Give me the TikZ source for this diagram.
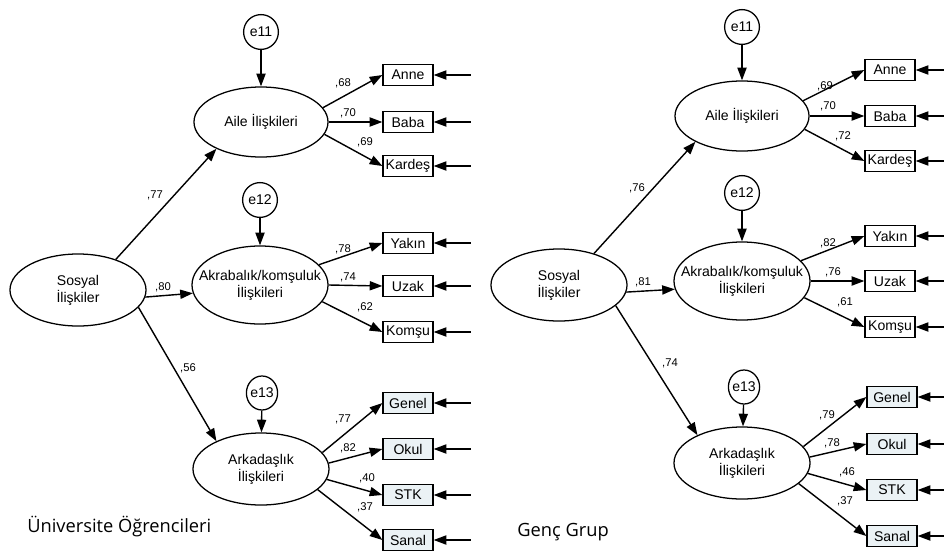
\documentclass[tikz,border=0pt]{standalone}
\usepackage{fontspec}
\setmainfont{Liberation Sans}
\newfontfamily\capfont{Open Sans}
\usetikzlibrary{shapes.geometric, arrows.meta}
\definecolor{obsfill}{HTML}{EBF2F5}
\tikzset{
latent/.style={ellipse, draw, line width=0.9pt, inner xsep=-0.4cm, inner ysep=0pt, minimum width=3.4cm, minimum height=1.8cm, align=center, font=\fontsize{10}{12}\selectfont},
err/.style={circle, draw, line width=0.9pt, inner sep=0pt, minimum size=0.87cm, font=\fontsize{10}{12}\selectfont},
erro/.style={ellipse, draw, line width=0.9pt, inner sep=-1pt, minimum width=0.78cm, minimum height=0.85cm, font=\fontsize{10}{12}\selectfont},
obs/.style={draw, line width=0.9pt, inner sep=0pt, minimum width=1.25cm, minimum height=0.53cm, font=\fontsize{10}{12}\selectfont},
obsb/.style={obs, fill=obsfill},
arr/.style={line width=1pt, -{Triangle[length=9pt, width=6.5pt]}},
lbl/.style={inner sep=0pt, font=\fontsize{8}{9}\selectfont},
grouptitle/.style={anchor=west, inner sep=0pt, font=\capfont\fontsize{13}{15}\selectfont}
}
\begin{document}
\begin{tikzpicture}[x=0.025cm, y=-0.025cm]
\useasboundingbox (0,0) rectangle (944,552);

%Left group: latent variables
\node[latent] (sosL) at (78,290) {Sosyal\\İlişkiler};
\node[latent, minimum width=3.35cm, minimum height=1.75cm] (aileL) at (261,122) {Aile İlişkileri};
\node[latent, minimum height=1.95cm] (akrL) at (260,285) {Akrabalık/komşuluk\\İlişkileri};
\node[latent] (arkL) at (261,469) {Arkadaşlık\\İlişkileri};
\node[err] (e11L) at (261,32) {e11};
\node[err] (e12L) at (260,200) {e12};
\node[erro] (e13L) at (262,393) {e13};

%Left group: observed
\node[obs] (anneL) at (408,75) {Anne};
\node[obs] (babaL) at (408,122) {Baba};
\node[obs] (kardesL) at (408,166) {Kardeş};
\node[obs] (yakinL) at (408,243) {Yakın};
\node[obs] (uzakL) at (408,286) {Uzak};
\node[obs] (komsuL) at (408,332) {Komşu};
\node[obsb] (genelL) at (408,403) {Genel};
\node[obsb] (okulL) at (408,449) {Okul};
\node[obsb] (stkL) at (408,495) {STK};
\node[obsb] (sanalL) at (408,540) {Sanal};

%Left group: paths
\draw[arr] (sosL.39) -- (aileL.211);
\draw[arr] (sosL.-6) -- (akrL.187);
\draw[arr] (sosL.-16) -- (arkL.148);
\draw[arr] (e11L) -- (aileL);
\draw[arr] (e12L) -- (akrL);
\draw[arr] (e13L) -- (arkL);
\draw[arr] (aileL.13) -- (anneL.west);
\draw[arr] (aileL.east) -- (babaL.west);
\draw[arr] (aileL.-11) -- (kardesL.west);
\draw[arr] (akrL.19) -- (yakinL.west);
\draw[arr] (akrL.east) -- (uzakL.west);
\draw[arr] (akrL.-15) -- (komsuL.west);
\draw[arr] (arkL.15) -- (genelL.west);
\draw[arr] (arkL.5) -- (okulL.west);
\draw[arr] (arkL.-9) -- (stkL.west);
\draw[arr] (arkL.-20) -- (sanalL.west);

%Left group: errors of observed
\draw[arr] ([xshift=0.93cm]anneL.east) -- (anneL.east);
\draw[arr] ([xshift=0.93cm]babaL.east) -- (babaL.east);
\draw[arr] ([xshift=0.93cm]kardesL.east) -- (kardesL.east);
\draw[arr] ([xshift=0.93cm]yakinL.east) -- (yakinL.east);
\draw[arr] ([xshift=0.93cm]uzakL.east) -- (uzakL.east);
\draw[arr] ([xshift=0.93cm]komsuL.east) -- (komsuL.east);
\draw[arr] ([xshift=0.93cm]genelL.east) -- (genelL.east);
\draw[arr] ([xshift=0.93cm]okulL.east) -- (okulL.east);
\draw[arr] ([xshift=0.93cm]stkL.east) -- (stkL.east);
\draw[arr] ([xshift=0.93cm]sanalL.east) -- (sanalL.east);

%Left group: estimates
\node[lbl] (l1) at (155,195) {,77};
\node[lbl] (l2) at (163,287) {,80};
\node[lbl] (l3) at (188,368) {,56};
\node[lbl] (l4) at (343,83) {,68};
\node[lbl] (l5) at (348,113) {,70};
\node[lbl] (l6) at (365,142) {,69};
\node[lbl] (l7) at (343,249) {,78};
\node[lbl] (l8) at (348,277) {,74};
\node[lbl] (l9) at (365,307) {,62};
\node[lbl] (l10) at (343,419) {,77};
\node[lbl] (l11) at (348,448) {,82};
\node[lbl] (l12) at (367,478) {,40};
\node[lbl] (l13) at (365,507) {,37};

\node[grouptitle] (titleL) at (27,527) {Üniversite Öğrencileri};

%Right group: latent variables
\node[latent] (sosR) at (559,285) {Sosyal\\İlişkiler};
\node[latent, minimum width=3.35cm, minimum height=1.75cm] (aileR) at (742,116) {Aile İlişkileri};
\node[latent, minimum height=1.95cm] (akrR) at (742,281) {Akrabalık/komşuluk\\İlişkileri};
\node[latent] (arkR) at (742,463) {Arkadaşlık\\İlişkileri};
\node[err] (e11R) at (742,27) {e11};
\node[err] (e12R) at (742,193) {e12};
\node[erro] (e13R) at (744,387) {e13};

%Right group: observed
\node[obs] (anneR) at (890,70) {Anne};
\node[obs] (babaR) at (890,116) {Baba};
\node[obs] (kardesR) at (890,161) {Kardeş};
\node[obs] (yakinR) at (890,236) {Yakın};
\node[obs] (uzakR) at (890,281) {Uzak};
\node[obs] (komsuR) at (890,327) {Komşu};
\node[obsb] (genelR) at (892,397) {Genel};
\node[obsb] (okulR) at (892,444) {Okul};
\node[obsb] (stkR) at (892,490) {STK};
\node[obsb] (sanalR) at (892,536) {Sanal};

%Right group: paths
\draw[arr] (sosR.42) -- (aileR.209);
\draw[arr] (sosR.-6) -- (akrR.187);
\draw[arr] (sosR.-20) -- (arkR.148);
\draw[arr] (e11R) -- (aileR);
\draw[arr] (e12R) -- (akrR);
\draw[arr] (e13R) -- (arkR);
\draw[arr] (aileR.14) -- (anneR.west);
\draw[arr] (aileR.east) -- (babaR.west);
\draw[arr] (aileR.-12) -- (kardesR.west);
\draw[arr] (akrR.19) -- (yakinR.west);
\draw[arr] (akrR.east) -- (uzakR.west);
\draw[arr] (akrR.-15) -- (komsuR.west);
\draw[arr] (arkR.15) -- (genelR.west);
\draw[arr] (arkR.5) -- (okulR.west);
\draw[arr] (arkR.-9) -- (stkR.west);
\draw[arr] (arkR.-20) -- (sanalR.west);

%Right group: errors of observed
\draw[arr] ([xshift=0.93cm]anneR.east) -- (anneR.east);
\draw[arr] ([xshift=0.93cm]babaR.east) -- (babaR.east);
\draw[arr] ([xshift=0.93cm]kardesR.east) -- (kardesR.east);
\draw[arr] ([xshift=0.93cm]yakinR.east) -- (yakinR.east);
\draw[arr] ([xshift=0.93cm]uzakR.east) -- (uzakR.east);
\draw[arr] ([xshift=0.93cm]komsuR.east) -- (komsuR.east);
\draw[arr] ([xshift=0.93cm]genelR.east) -- (genelR.east);
\draw[arr] ([xshift=0.93cm]okulR.east) -- (okulR.east);
\draw[arr] ([xshift=0.93cm]stkR.east) -- (stkR.east);
\draw[arr] ([xshift=0.93cm]sanalR.east) -- (sanalR.east);

%Right group: estimates
\node[lbl] (r1) at (637,188) {,76};
\node[lbl] (r2) at (643,282) {,81};
\node[lbl] (r3) at (670,363) {,74};
\node[lbl] (r4) at (825,86) {,69};
\node[lbl] (r5) at (828,106) {,70};
\node[lbl] (r6) at (843,136) {,72};
\node[lbl] (r7) at (828,243) {,82};
\node[lbl] (r8) at (833,272) {,76};
\node[lbl] (r9) at (845,302) {,61};
\node[lbl] (r10) at (827,415) {,79};
\node[lbl] (r11) at (832,443) {,78};
\node[lbl] (r12) at (847,472) {,46};
\node[lbl] (r13) at (845,501) {,37};

\node[grouptitle] (titleR) at (517,532) {Genç Grup};
\end{tikzpicture}
\end{document}
